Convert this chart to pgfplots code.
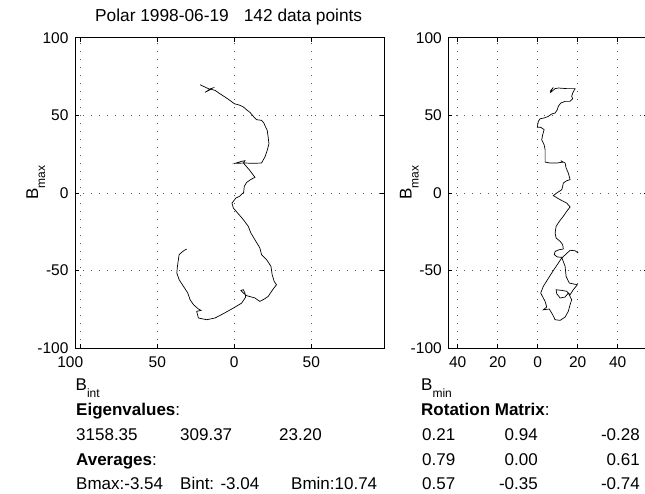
\documentclass[border=0pt]{standalone}
\usepackage{pgfplots}
\pgfplotsset{compat=1.18}
\usepackage{fontspec}
\setmainfont{Liberation Sans}
\newcommand{\sub}[1]{\raisebox{-7pt}{\fontsize{12}{12}\selectfont #1}}
\newcommand{\fs}{\fontsize{17}{20}\selectfont}
\newcommand{\ft}{\fontsize{15.5}{18}\selectfont}
\pgfplotsset{
  hodo/.style={
    scale only axis,
    height=310.6pt,
    ymin=-100, ymax=100,
    ytick={-100,-50,0,50,100},
    yticklabels={-100,-50,0,50,100},
    grid=major,
    major grid style={black!65, line width=0.6pt, dash pattern=on 0.8pt off 7.2pt},
    tick align=inside,
    major tick length=4pt,
    tick style={black, line width=0.6pt},
    axis line style={black, line width=0.8pt},
    tick label style={font=\ft},
    xticklabel style={yshift=-4.8pt},
    yticklabel style={xshift=-3pt},
    clip=true,
  }
}
\begin{document}
\begin{tikzpicture}[x=1pt,y=1pt]
\useasboundingbox (0,0) rectangle (645,494);
\clip (0,0) rectangle (645,494);
\fill[white] (0,0) rectangle (645,494);
% left hodogram: Bint vs Bmax
\begin{axis}[hodo, at={(75pt,145.7pt)}, anchor=south west,
  width=309pt, xmin=-103.4, xmax=97.2,
  xtick={-100,-50,0,50}, xticklabels={\makebox[6pt][r]{100},50,0,50}]
\addplot[black, line width=0.7pt] coordinates {
(-22.2,69.7) (-19.0,68.2) (-16.2,66.9) (-14.0,67.6) (-15.7,66.5) (-19.0,64.8)
(-15.7,66.9) (-12.5,66.1) (-9.3,63.9) (-6.0,61.8) (-2.8,59.6) (0.0,57.5)
(3.3,56.6) (5.9,55.4) (8.0,53.6) (10.2,51.9) (12.8,48.9) (14.5,47.2)
(17.7,46.8) (19.2,45.1) (20.3,42.5) (21.4,40.3) (22.0,36.0) (22.5,31.7)
(21.4,27.5) (20.1,23.6) (17.7,19.3) (12.3,19.1) (6.9,19.3) (0.5,19.1)
(4.8,20.4) (6.9,20.8) (5.9,19.3) (9.7,15.0) (13.4,10.1) (10.6,8.6)
(8.0,6.8) (6.5,4.3) (6.1,0.4) (3.3,-2.2) (1.1,-3.2) (-1.5,-6.5)
(-0.6,-9.7) (2.2,-12.9) (5.9,-17.2) (9.1,-21.5) (10.8,-25.8) (13.4,-30.1)
(16.6,-35.4) (17.7,-39.7) (21.0,-43.0) (23.8,-47.2) (24.6,-52.6) (25.9,-56.9)
(27.4,-59.1) (25.3,-61.8) (24.2,-63.3) (22.0,-66.6) (19.5,-68.3) (16.6,-69.8)
(13.4,-67.6) (8.0,-66.1) (5.9,-64.4) (4.3,-62.7) (5.9,-62.3) (6.9,-64.4)
(7.4,-67.0) (4.8,-70.9) (-0.6,-74.1) (-7.1,-77.7) (-12.5,-80.5) (-17.9,-81.6)
(-23.3,-80.5) (-24.4,-76.2) (-21.6,-75.6) (-23.3,-74.7) (-26.5,-71.9) (-28.7,-68.7)
(-30.2,-64.4) (-33.0,-60.1) (-35.8,-55.8) (-37.3,-51.5) (-36.9,-47.2) (-36.3,-43.0)
(-35.8,-39.7) (-34.1,-38.2) (-32.4,-36.9) (-30.9,-36.1)
};
\end{axis}
% right hodogram: Bmin vs Bmax
\begin{axis}[hodo, at={(448.3pt,145.7pt)}, anchor=south west,
  width=199.4pt, xmin=-44.7, xmax=55,
  xtick={-40,-20,0,20,40}, xticklabels={40,20,0,20,40}]
\addplot[black, line width=0.7pt] coordinates {
(6.2,65.4) (7.8,68.0) (7.0,66.5) (6.5,64.8) (8.7,67.2) (10.3,67.6)
(14.5,67.2) (18.7,67.2) (17.5,64.4) (17.0,62.2) (17.5,60.7) (16.2,59.0)
(13.7,59.0) (11.5,57.9) (10.3,55.8) (9.8,53.6) (8.7,51.5) (7.0,50.9)
(5.3,49.3) (3.2,48.3) (1.2,47.8) (0.3,46.1) (-0.2,42.3) (1.5,42.3)
(3.2,40.8) (2.5,37.5) (2.0,34.3) (3.2,31.1) (3.7,27.9) (3.7,23.6)
(3.7,19.9) (6.2,19.3) (9.5,19.3) (12.8,19.9) (11.5,20.8) (13.7,19.3)
(14.2,16.1) (15.3,12.9) (16.2,8.6) (14.5,7.9) (12.8,6.4) (12.5,4.3)
(12.0,2.1) (9.5,0.0) (7.8,-1.7) (11.2,-4.3) (14.5,-6.5) (16.2,-9.0)
(14.5,-11.8) (12.8,-15.0) (10.8,-18.3) (9.2,-21.5) (8.7,-25.8) (9.2,-29.0)
(11.2,-31.1) (12.5,-33.3) (12.8,-36.1) (10.8,-36.5) (8.7,-37.6) (8.3,-39.7)
(9.8,-41.2) (12.0,-41.4) (13.7,-47.2) (14.2,-53.7) (15.8,-58.0) (19.8,-59.1)
(17.8,-62.3) (16.2,-65.5) (14.5,-63.3) (12.0,-62.7) (9.2,-62.3) (9.5,-64.8)
(11.2,-67.6) (13.7,-67.0) (15.3,-64.4) (17.0,-68.7) (16.2,-71.9) (15.3,-76.2)
(13.7,-79.9) (11.2,-82.0) (8.7,-81.6) (7.5,-78.4) (5.8,-74.7) (2.8,-75.2)
(4.5,-73.4) (3.7,-69.8) (1.5,-64.4) (2.8,-60.1) (7.0,-51.5) (12.0,-41.9)
(16.2,-36.9) (18.7,-37.2) (20.3,-38.7)
};
\end{axis}
% title and labels
\node[anchor=base west, inner sep=0pt, font=\fontsize{17.3}{20}\selectfont] at (95,472.3) {Polar 1998-06-19\hspace{15pt}142 data points};
\node[anchor=base west, inner sep=0pt, rotate=90, font=\fs] at (38.2,294) {B\sub{max}};
\node[anchor=base west, inner sep=0pt, rotate=90, font=\fs] at (411.5,294) {B\sub{max}};
\node[anchor=base west, inner sep=0pt, font=\fs] at (75.5,103.3) {B\sub{int}};
\node[anchor=base west, inner sep=0pt, font=\fs] at (421,103.3) {B\sub{min}};
% left text block
\node[anchor=base west, inner sep=0pt, font=\fs] at (76,78.5) {\textbf{Eigenvalues}:};
\node[anchor=base west, inner sep=0pt, font=\fs] at (76,53.5) {3158.35};
\node[anchor=base west, inner sep=0pt, font=\fs] at (180,53.5) {309.37};
\node[anchor=base west, inner sep=0pt, font=\fs] at (279,53.5) {23.20};
\node[anchor=base west, inner sep=0pt, font=\fs] at (76,28.5) {\textbf{Averages}:};
\node[anchor=base west, inner sep=0pt, font=\fs] at (76,4) {Bmax:-3.54};
\node[anchor=base west, inner sep=0pt, font=\fs] at (180,4) {Bint: -3.04};
\node[anchor=base west, inner sep=0pt, font=\fs] at (291,4) {Bmin:10.74};
% right text block
\node[anchor=base west, inner sep=0pt, font=\fs] at (421,78.5) {\textbf{Rotation Matrix}:};
\node[anchor=base west, inner sep=0pt, font=\fs] at (422,53.5) {0.21};
\node[anchor=base east, inner sep=0pt, font=\fs] at (538,53.5) {0.94};
\node[anchor=base east, inner sep=0pt, font=\fs] at (640,53.5) {-0.28};
\node[anchor=base west, inner sep=0pt, font=\fs] at (422,28.5) {0.79};
\node[anchor=base east, inner sep=0pt, font=\fs] at (538,28.5) {0.00};
\node[anchor=base east, inner sep=0pt, font=\fs] at (640,28.5) {0.61};
\node[anchor=base west, inner sep=0pt, font=\fs] at (422,4) {0.57};
\node[anchor=base east, inner sep=0pt, font=\fs] at (538,4) {-0.35};
\node[anchor=base east, inner sep=0pt, font=\fs] at (640,4) {-0.74};
\end{tikzpicture}
\end{document}
